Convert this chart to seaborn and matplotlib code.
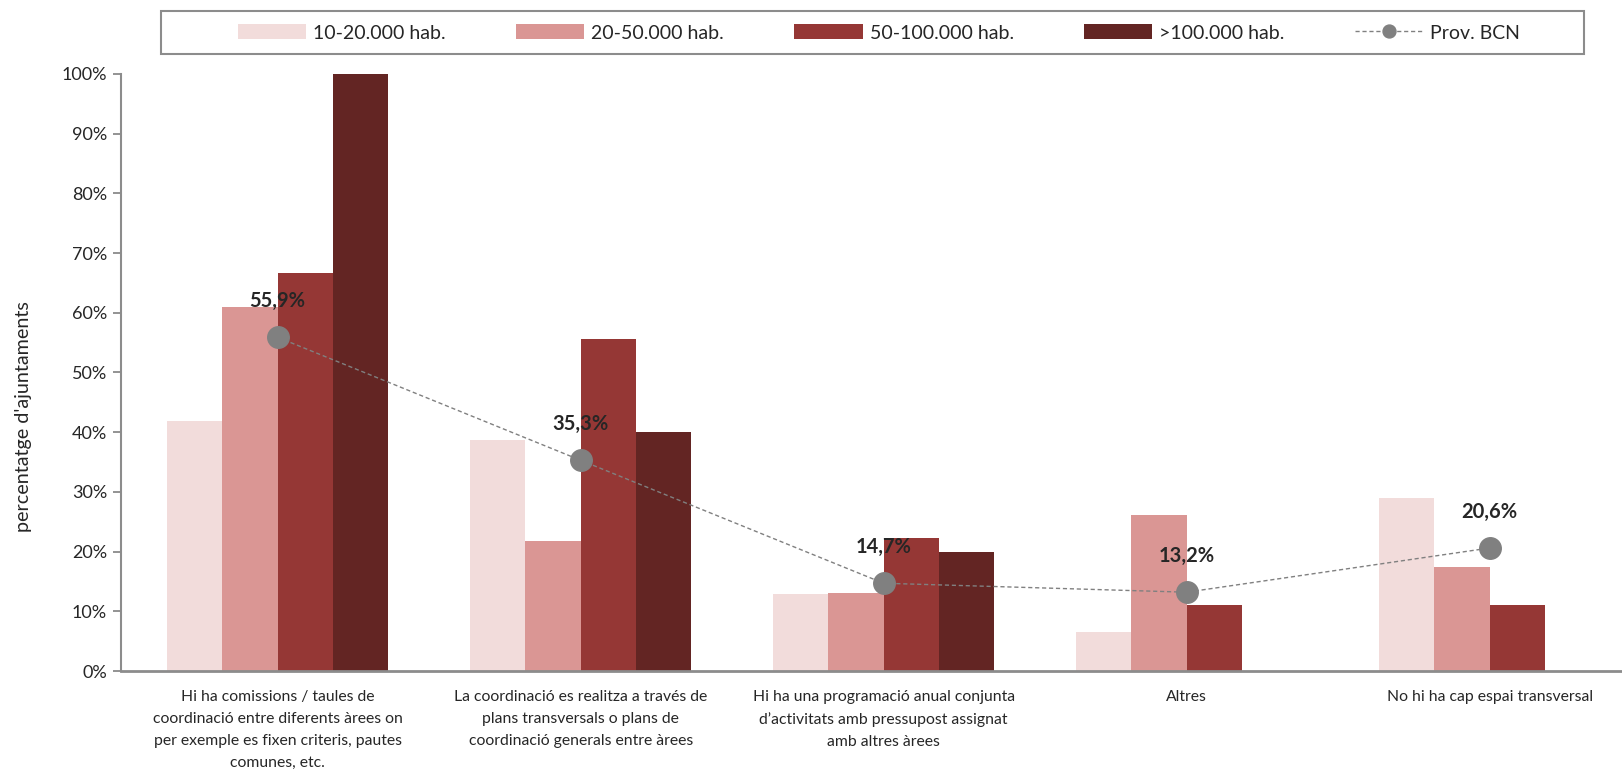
import pandas as pd
import seaborn as sns
import matplotlib.pyplot as plt
from matplotlib.patches import Rectangle
from matplotlib.ticker import PercentFormatter, MultipleLocator

# data
categories = [
    'Hi ha comissions / taules de\ncoordinació entre diferents àrees on\nper exemple es fixen criteris, pautes\ncomunes, etc.',
    'La coordinació es realitza a través de\nplans transversals o plans de\ncoordinació generals entre àrees',
    'Hi ha una programació anual conjunta\nd\u2019activitats amb pressupost assignat\namb altres àrees',
    'Altres',
    'No hi ha cap espai transversal',
]
groups = ['10-20.000 hab.', '20-50.000 hab.', '50-100.000 hab.', '>100.000 hab.']
pop_10_20 = [0.419, 0.387, 0.129, 0.065, 0.290]
pop_20_50 = [0.609, 0.217, 0.130, 0.261, 0.174]
pop_50_100 = [0.667, 0.556, 0.222, 0.111, 0.111]
pop_100 = [1.000, 0.400, 0.200, None, None]
prov_bcn = [0.559, 0.353, 0.147, 0.132, 0.206]
prov_labels = ['55,9%', '35,3%', '14,7%', '13,2%', '20,6%']

colors = ['#F2DCDB', '#DA9694', '#953735', '#632523']

rows = []
for g, vals in zip(groups, [pop_10_20, pop_20_50, pop_50_100, pop_100]):
    for c, v in zip(categories, vals):
        rows.append({'cat': c, 'grup': g, 'valor': v})
df = pd.DataFrame(rows)

sns.set_style('white')
plt.rcParams['font.family'] = ['Lato', 'DejaVu Sans']

fig = plt.figure(figsize=(16.22, 7.73), dpi=100)
ax = fig.add_axes([121 / 1622, 1 - 671 / 773, 1 - 121 / 1622, (671 - 74) / 773])

sns.barplot(data=df, x='cat', y='valor', hue='grup', order=categories,
            hue_order=groups, palette=colors, width=0.73, gap=0,
            saturation=1, linewidth=0, ax=ax)

ax.plot(range(len(categories)), prov_bcn, linestyle=(0, (3, 2)), color='#808080',
        linewidth=1, marker='o', markersize=15.5, markerfacecolor='#808080',
        markeredgecolor='#808080', label='Prov. BCN', zorder=5)
for i, (v, t) in enumerate(zip(prov_bcn, prov_labels)):
    ax.annotate(t, (i, v), xytext=(0, 26), textcoords='offset points',
                ha='center', va='center', fontsize=14.5, fontweight='bold')

ax.set_ylim(0, 1)
ax.set_xlim(-0.517, 4.437)
ax.yaxis.set_major_locator(MultipleLocator(0.1))
ax.yaxis.set_major_formatter(PercentFormatter(1.0, decimals=0))
ax.tick_params(axis='y', left=True, length=6, width=1.2, color='#808080',
               labelsize=13, pad=4)
ax.tick_params(axis='x', bottom=False, labelsize=11.3, pad=10)
for lbl in ax.get_xticklabels():
    lbl.set_linespacing(1.73)
ax.set_xlabel('')
ax.set_ylabel("percentatge d'ajuntaments", fontsize=14.2)
ax.yaxis.set_label_coords(-0.0596, 0.427)

for s in ['top', 'right']:
    ax.spines[s].set_visible(False)
ax.spines['left'].set_color('#8c8c8c')
ax.spines['left'].set_linewidth(1.5)
ax.spines['bottom'].set_color('#8c8c8c')
ax.spines['bottom'].set_linewidth(2)

handles, labels = ax.get_legend_handles_labels()
ax.get_legend().remove()
order = [labels.index(g) for g in groups] + [labels.index('Prov. BCN')]
leg = fig.legend([handles[i] for i in order], [labels[i] for i in order],
                 loc='center', bbox_to_anchor=(879 / 1622, 1 - 33 / 773),
                 ncol=5, frameon=False, fontsize=14, handlelength=3.5,
                 handleheight=0.8, handletextpad=0.36, columnspacing=3.62,
                 markerscale=0.6)
# legend frame as in the original (wider than the entries)
fig.patches.append(Rectangle((161 / 1622, 1 - 54 / 773), 1423 / 1622, 43 / 773,
                             transform=fig.transFigure, fill=False,
                             edgecolor='#8c8c8c', linewidth=1.5))

fig.savefig('out.png', dpi=100)
